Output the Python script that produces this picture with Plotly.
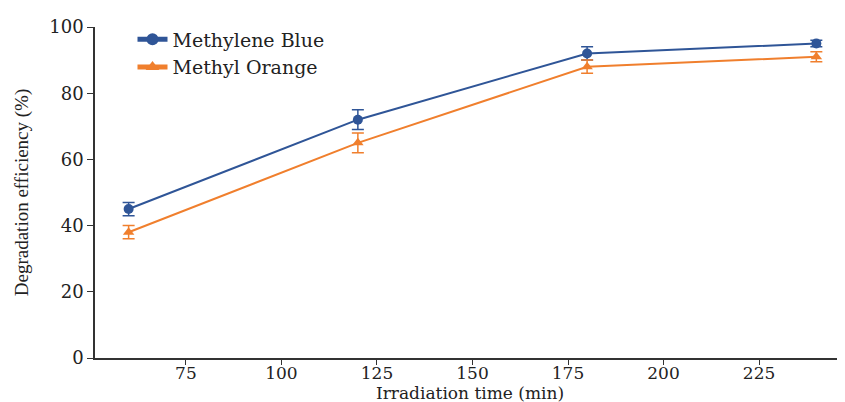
import plotly.graph_objects as go

time_min = [60, 120, 180, 240]
mb_values = [45, 72, 92, 95]
mb_errors = [2, 3, 2, 1]
mo_values = [38, 65, 88, 91]
mo_errors = [2, 3, 2, 1.5]

x_ticks = [75, 100, 125, 150, 175, 200, 225]
y_ticks = [0, 20, 40, 60, 80, 100]

BLUE = "#2f5597"
ORANGE = "#f07f2d"
SERIF = "DejaVu Serif"

fig = go.Figure()
fig.add_trace(go.Scatter(
    x=time_min, y=mb_values, name="Methylene Blue", mode="lines+markers",
    line=dict(color=BLUE, width=2),
    marker=dict(symbol="circle", size=10, color=BLUE),
    error_y=dict(type="data", array=mb_errors, visible=True, color=BLUE, thickness=1.5, width=6),
))
fig.add_trace(go.Scatter(
    x=time_min, y=mo_values, name="Methyl Orange", mode="lines+markers",
    line=dict(color=ORANGE, width=2),
    marker=dict(symbol="triangle-up", size=10, color=ORANGE),
    error_y=dict(type="data", array=mo_errors, visible=True, color=ORANGE, thickness=1.5, width=6),
))

fig.add_annotation(
    text="Irradiation time (min)", xref="paper", yref="paper", x=0.5, y=0,
    xanchor="center", yanchor="top", yshift=-23, showarrow=False,
    font=dict(family=SERIF, size=17, color="#222"),
)

fig.update_layout(
    width=845, height=402,
    margin=dict(l=87, r=8, t=11, b=52),
    paper_bgcolor="white", plot_bgcolor="white",
    font=dict(family=SERIF, size=17, color="#222"),
    showlegend=True,
    legend=dict(x=0.05, y=1.02, xanchor="left", yanchor="top",
                bgcolor="rgba(0,0,0,0)", font=dict(family=SERIF, size=19, color="#222"),
                tracegroupgap=0, itemsizing="constant"),
    xaxis=dict(
        range=[51.2, 247.5], tickvals=x_ticks, ticks="outside", ticklen=5, tickwidth=1,
        tickcolor="#333", showline=True, linecolor="#333", linewidth=1.5, showgrid=False,
        zeroline=False, tickfont=dict(family=SERIF, size=17), ticklabelstandoff=-6,
    ),
    yaxis=dict(
        range=[0, 100], tickvals=y_ticks, ticks="outside", ticklen=6, tickwidth=1,
        tickcolor="#333", showline=True, linecolor="#333", linewidth=1.5, showgrid=False,
        zeroline=False, tickfont=dict(family=SERIF, size=18),
        title=dict(text="Degradation efficiency (%)", font=dict(family="Liberation Serif", size=19), standoff=16),
    ),
)

fig.write_html("out.html")
